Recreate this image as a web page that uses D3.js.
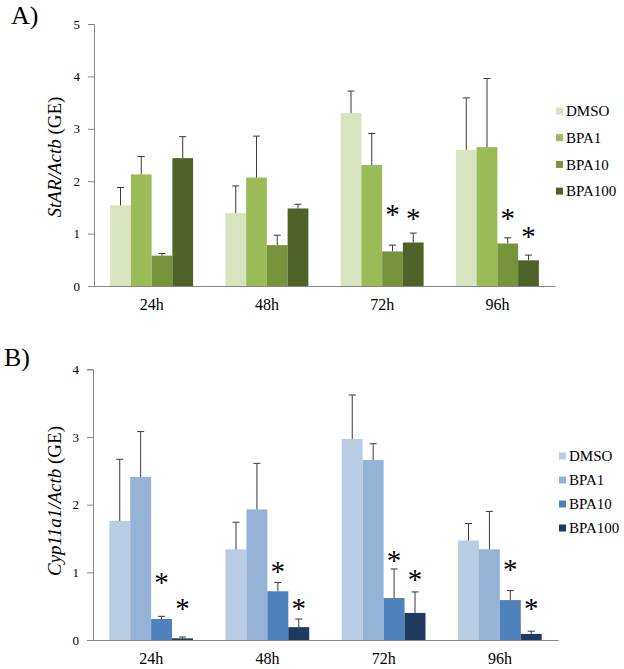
<!DOCTYPE html>
<html>
<head>
<meta charset="utf-8">
<script src="https://cdn.jsdelivr.net/npm/d3@7"></script>
<style>
body { margin: 0; background: #fff; }
svg, svg text { font-family: "Liberation Serif", "Times New Roman", serif !important; }
text { fill: #000; }
</style>
</head>
<body>
<svg id="chart" width="624" height="669" font-family="Liberation Serif"></svg>
<script>
var groups = ["24h", "48h", "72h", "96h"];
var series = ["DMSO", "BPA1", "BPA10", "BPA100"];

// panel A - StAR
var starDMSO = [1.54, 1.39, 3.30, 2.60];
var starBPA1 = [2.13, 2.07, 2.31, 2.65];
var starBPA10 = [0.58, 0.78, 0.66, 0.81];
var starBPA100 = [2.44, 1.48, 0.83, 0.49];
var starErrDMSO = [0.34, 0.52, 0.42, 0.99];
var starErrBPA1 = [0.34, 0.79, 0.60, 1.31];
var starErrBPA10 = [0.04, 0.19, 0.12, 0.11];
var starErrBPA100 = [0.41, 0.08, 0.18, 0.10];
var sigA = [["72h", "BPA10", 1.47], ["72h", "BPA100", 1.39], ["96h", "BPA10", 1.39], ["96h", "BPA100", 1.05]];

// panel B - Cyp11a1
var cypDMSO = [1.76, 1.34, 2.97, 1.47];
var cypBPA1 = [2.41, 1.93, 2.66, 1.34];
var cypBPA10 = [0.31, 0.72, 0.62, 0.59];
var cypBPA100 = [0.025, 0.19, 0.40, 0.09];
var cypErrDMSO = [0.91, 0.40, 0.65, 0.25];
var cypErrBPA1 = [0.67, 0.68, 0.24, 0.56];
var cypErrBPA10 = [0.04, 0.13, 0.43, 0.14];
var cypErrBPA100 = [0.02, 0.12, 0.31, 0.04];
var sigB = [["24h", "BPA10", 0.93], ["24h", "BPA100", 0.55], ["48h", "BPA10", 1.09], ["48h", "BPA100", 0.55],
            ["72h", "BPA10", 1.25], ["72h", "BPA100", 0.98], ["96h", "BPA10", 1.13], ["96h", "BPA100", 0.55]];

var greens = ["#d7e4bd", "#9bbb59", "#77933c", "#4f6228"];
var blues = ["#b9cde5", "#95b3d7", "#4f81bd", "#1f3a60"];

function buildRows(vals, errs) {
	var rows = [];
	groups.forEach(function(g, i) {
		series.forEach(function(s, j) {
			rows.push({group: g, series: s, value: vals[j][i], err: errs[j][i]});
		});
	});
	return rows;
}

var svg = d3.select('#chart');

function drawPanel(opt) {
	var g = svg.append('g');

	var y = d3.scaleLinear().domain([0, opt.ymax]).range([opt.y0, opt.y1]);
	var x = d3.scaleBand().domain(groups).range([opt.x0, opt.x1]).paddingInner(0.28).paddingOuter(0.14);
	var xs = d3.scaleBand().domain(series).range([0, x.bandwidth()]);
	var color = d3.scaleOrdinal().domain(series).range(opt.colors);

	// bars
	g.selectAll('rect.bar').data(opt.rows).enter().append('rect')
		.attr('class', 'bar')
		.attr('x', function(d) { return x(d.group) + xs(d.series); })
		.attr('y', function(d) { return y(d.value); })
		.attr('width', xs.bandwidth())
		.attr('height', function(d) { return y(0) - y(d.value); })
		.attr('fill', function(d) { return color(d.series); });

	// error bars (upper only)
	var eb = g.selectAll('g.err').data(opt.rows).enter().append('g')
		.attr('class', 'err')
		.attr('stroke', '#3a3a3a')
		.attr('stroke-width', 1);
	eb.append('line')
		.attr('x1', function(d) { return x(d.group) + xs(d.series) + xs.bandwidth() / 2; })
		.attr('x2', function(d) { return x(d.group) + xs(d.series) + xs.bandwidth() / 2; })
		.attr('y1', function(d) { return y(d.value); })
		.attr('y2', function(d) { return y(d.value + d.err); });
	eb.append('line')
		.attr('x1', function(d) { return x(d.group) + xs(d.series) + xs.bandwidth() / 2 - 3.5; })
		.attr('x2', function(d) { return x(d.group) + xs(d.series) + xs.bandwidth() / 2 + 3.5; })
		.attr('y1', function(d) { return y(d.value + d.err); })
		.attr('y2', function(d) { return y(d.value + d.err); });

	// significance stars
	g.selectAll('text.sig').data(opt.sig).enter().append('text')
		.attr('class', 'sig')
		.attr('x', function(d) { return x(d[0]) + xs(d[1]) + xs.bandwidth() / 2; })
		.attr('y', function(d) { return y(d[2]); })
		.attr('dy', '0.52em')
		.attr('text-anchor', 'middle')
		.style('font-size', '29px')
		.text('*');

	// y axis
	var yAxis = g.append('g')
		.attr('transform', `translate(${opt.x0}, 0)`)
		.call(d3.axisLeft(y).ticks(opt.ymax).tickSize(6).tickPadding(8))
		.attr('font-family', null);
	yAxis.selectAll('path, line').attr('stroke', '#868686');
	yAxis.selectAll('text').style('font-size', '13px');

	// x axis
	var xAxis = g.append('g')
		.attr('transform', `translate(0, ${opt.y0})`)
		.call(d3.axisBottom(x).tickSize(0).tickPadding(13).tickSizeOuter(0))
		.attr('font-family', null);
	xAxis.select('path').attr('stroke', '#868686');
	xAxis.selectAll('text').style('font-size', '16px');

	// y title
	var t = g.append('text')
		.attr('transform', `translate(61, ${opt.titleY}) rotate(-90)`)
		.attr('text-anchor', 'middle')
		.style('font-size', '19px');
	t.append('tspan').style('font-style', 'italic').text(opt.gene);
	t.append('tspan').text(' (GE)');

	// panel letter
	g.append('text')
		.attr('x', opt.letterX)
		.attr('y', opt.letterY)
		.style('font-size', '26px')
		.text(opt.letter);

	// legend
	var leg = g.selectAll('g.leg').data(series).enter().append('g')
		.attr('class', 'leg')
		.attr('transform', function(d, i) { return `translate(${opt.legX}, ${opt.legY + i * opt.legStep})`; });
	leg.append('rect')
		.attr('x', 0).attr('y', -3.5)
		.attr('width', 7).attr('height', 7)
		.attr('fill', function(d) { return color(d); });
	leg.append('text')
		.attr('x', 10)
		.attr('dy', '0.35em')
		.style('font-size', '15px')
		.text(function(d) { return d; });
}

drawPanel({
	rows: buildRows([starDMSO, starBPA1, starBPA10, starBPA100], [starErrDMSO, starErrBPA1, starErrBPA10, starErrBPA100]),
	sig: sigA, colors: greens, ymax: 5,
	x0: 94, x1: 555, y0: 286, y1: 24,
	gene: 'StAR/Actb', titleY: 157,
	letter: 'A)', letterX: 11, letterY: 24,
	legX: 556, legY: 111, legStep: 26.7
});

drawPanel({
	rows: buildRows([cypDMSO, cypBPA1, cypBPA10, cypBPA100], [cypErrDMSO, cypErrBPA1, cypErrBPA10, cypErrBPA100]),
	sig: sigB, colors: blues, ymax: 4,
	x0: 93, x1: 558, y0: 640, y1: 369.3,
	gene: 'Cyp11a1/Actb', titleY: 501,
	letter: 'B)', letterX: 4, letterY: 366,
	legX: 559, legY: 456, legStep: 24
});
</script>
</body>
</html>
